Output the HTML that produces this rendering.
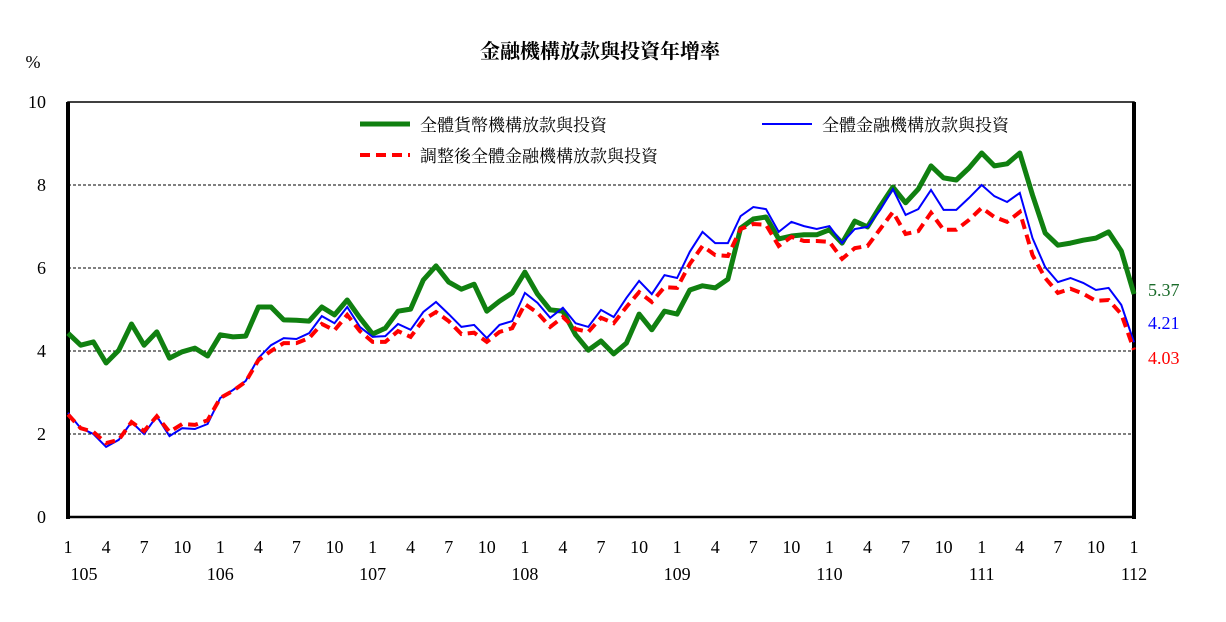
<!DOCTYPE html>
<html><head><meta charset="utf-8"><style>
body{margin:0;background:#fff;}
svg text{font-family:"Liberation Serif","Noto Serif CJK SC",serif;}
</style></head><body>
<svg id="chart" width="1226" height="617" xmlns="http://www.w3.org/2000/svg">
<text x="600" y="58" text-anchor="middle" font-size="20" font-weight="bold">金融機構放款與投資年增率</text>
<text x="33" y="68" text-anchor="middle" font-size="18">%</text>
<g id="grid"></g><g id="axes"></g><g id="series"></g>
<g>
<line x1="360" y1="124" x2="410" y2="124" stroke="#108010" stroke-width="5"/>
<text x="420" y="131" font-size="17">全體貨幣機構放款與投資</text>
<line x1="762" y1="124" x2="812" y2="124" stroke="#0000ff" stroke-width="2"/>
<text x="822" y="131" font-size="17">全體金融機構放款與投資</text>
<line x1="360" y1="155" x2="410" y2="155" stroke="#ff0000" stroke-width="4" stroke-dasharray="10,6"/>
<text x="420" y="162" font-size="17">調整後全體金融機構放款與投資</text>
</g>
<text x="1148" y="296" font-size="18" fill="#1a6b2a">5.37</text>
<text x="1148" y="329" font-size="18" fill="#0000ff">4.21</text>
<text x="1148" y="364" font-size="18" fill="#ff0000">4.03</text>
</svg>
<script>
const yTicks=[0,2,4,6,8,10];
const monthLabels=["1","4","7","10"];
const yearLabels=["105","106","107","108","109","110","111","112"];
const green=[4.43,4.14,4.22,3.71,4.02,4.65,4.14,4.46,3.83,3.98,4.07,3.88,4.39,4.34,4.36,5.06,5.06,4.75,4.74,4.72,5.06,4.87,5.23,4.80,4.41,4.55,4.96,5.01,5.71,6.05,5.66,5.49,5.61,4.96,5.20,5.40,5.90,5.37,4.99,4.96,4.39,4.02,4.24,3.93,4.19,4.89,4.51,4.96,4.89,5.47,5.57,5.52,5.73,6.96,7.18,7.23,6.70,6.77,6.80,6.80,6.92,6.60,7.13,6.99,7.49,7.95,7.57,7.90,8.46,8.17,8.12,8.41,8.77,8.46,8.51,8.77,7.76,6.84,6.55,6.60,6.67,6.72,6.87,6.41,5.37];
const blue=[2.51,2.14,2.00,1.69,1.86,2.29,2.00,2.43,1.95,2.14,2.12,2.24,2.87,3.06,3.28,3.83,4.14,4.31,4.29,4.43,4.84,4.67,5.06,4.58,4.34,4.36,4.65,4.51,4.94,5.18,4.89,4.58,4.63,4.31,4.63,4.72,5.40,5.16,4.80,5.04,4.67,4.58,4.99,4.82,5.28,5.69,5.37,5.83,5.76,6.39,6.87,6.60,6.60,7.25,7.47,7.42,6.87,7.11,7.01,6.94,7.01,6.60,6.94,6.99,7.40,7.90,7.28,7.42,7.88,7.40,7.40,7.69,8.00,7.73,7.59,7.81,6.72,6.02,5.66,5.76,5.64,5.47,5.52,5.11,4.21];
const red=[2.47,2.14,2.05,1.78,1.86,2.29,2.07,2.43,2.05,2.24,2.22,2.33,2.87,3.04,3.26,3.78,4.00,4.19,4.19,4.31,4.65,4.50,4.87,4.48,4.22,4.22,4.48,4.34,4.75,4.94,4.72,4.41,4.44,4.22,4.46,4.55,5.13,4.92,4.58,4.82,4.53,4.46,4.80,4.67,5.06,5.42,5.18,5.54,5.52,6.10,6.53,6.31,6.29,6.94,7.06,7.04,6.53,6.75,6.65,6.65,6.63,6.22,6.48,6.53,6.94,7.35,6.82,6.89,7.33,6.92,6.92,7.16,7.45,7.23,7.11,7.35,6.31,5.76,5.40,5.50,5.38,5.21,5.23,4.89,4.03];
const NS="http://www.w3.org/2000/svg";
const X0=68,X1=1134,Y0=517,Y1=102,N=green.length;
const xs=i=>X0+i*(X1-X0)/(N-1);
const ys=v=>Y0-(v/10)*(Y0-Y1);
function mk(tag,attrs,parent){const e=document.createElementNS(NS,tag);for(const k in attrs)e.setAttribute(k,attrs[k]);parent.appendChild(e);return e;}
const grid=document.getElementById('grid'),axes=document.getElementById('axes'),ser=document.getElementById('series');
yTicks.forEach(t=>{
  if(t>0&&t<10){const g=mk('line',{x1:X0,x2:X1,y1:ys(t),y2:ys(t),stroke:'#000','stroke-width':1,'stroke-dasharray':'3,2'},grid);
  
  }
  const l=mk('text',{x:46,y:ys(t)+6,'text-anchor':'end','font-size':18},axes);
  
  
  l.textContent=t;
});
const frame=mk('rect',{x:X0,y:Y1,width:X1-X0,height:Y0-Y1,fill:'none',stroke:'#000','stroke-width':1.5},axes);


[X0,X1].forEach((x,k)=>{const a=mk('line',{x1:x,x2:x,y1:Y1,y2:Y0+2,stroke:'#000','stroke-width':4},axes);

});
const b=mk('line',{x1:X0,x2:X1,y1:Y0,y2:Y0,stroke:'#000','stroke-width':2.5},axes);


for(let i=0;i<N;i+=3){
  const t=mk('text',{x:xs(i),y:553,'text-anchor':'middle','font-size':18},axes);
  
  
  t.textContent=monthLabels[(i/3)%4];
}
yearLabels.forEach((y,k)=>{
  const t=mk('text',{x:xs(k*12)+(k==0?16:k==7?0:0),y:580,'text-anchor':'middle','font-size':18},axes);
  
  
  t.textContent=y;
});
function path(arr){return arr.map((v,i)=>(i?'L':'M')+xs(i).toFixed(1)+','+ys(v).toFixed(1)).join('');}
const pg=mk('path',{d:path(green),fill:'none',stroke:'#108010','stroke-width':5,'stroke-linejoin':'round'},ser);


const pb=mk('path',{d:path(blue),fill:'none',stroke:'#0000ff','stroke-width':2},ser);


const pr=mk('path',{d:path(red),fill:'none',stroke:'#ff0000','stroke-width':4,'stroke-dasharray':'10,6'},ser);


</script>
</body></html>
